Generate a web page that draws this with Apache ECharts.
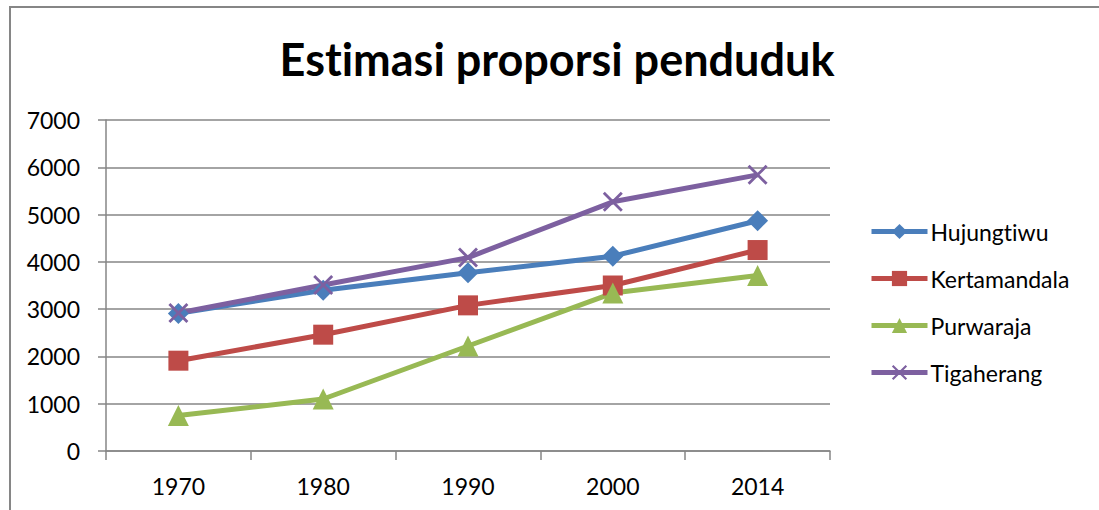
<!DOCTYPE html>
<html>
<head>
<meta charset="utf-8">
<script src="https://cdn.jsdelivr.net/npm/echarts@6/dist/echarts.min.js"></script>
<style>
  html, body { margin: 0; padding: 0; background: #fff; }
  #chart {
    position: absolute; left: 0; top: 0; width: 1099px; height: 510px;
    font-variant-ligatures: none;
  }
  #chart text { font-variant-ligatures: none; }
  #frame {
    position: absolute; left: 9px; top: 6px; right: -4px; bottom: -4px;
    border-left: 2px solid #868686; border-top: 2px solid #868686;
    pointer-events: none;
  }
</style>
</head>
<body>
<div id="chart"></div>
<div id="frame"></div>
<script>
const years = ['1970', '1980', '1990', '2000', '2014']
const hujungtiwu = [2910, 3400, 3770, 4120, 4870]
const kertamandala = [1910, 2460, 3080, 3500, 4250]
const purwaraja = [750, 1100, 2220, 3340, 3710]
const tigaherang = [2920, 3510, 4090, 5270, 5840]

const axisGray = '#868686'
const font = 'Lato, "Open Sans", sans-serif'
const crossPath = 'path://M0,1L1,0L5,4L9,0L10,1L6,5L10,9L9,10L5,6L1,10L0,9L4,5Z'

const chart = echarts.init(document.getElementById('chart'), null, { renderer: 'svg' })

function lineSeries(name, data, color, symbol, size) {
  return {
    name: name,
    type: 'line',
    data: data,
    symbol: symbol,
    symbolSize: size,
    lineStyle: { width: 5, color: color },
    itemStyle: { color: color },
    emphasis: { disabled: true },
  }
}

chart.setOption({
  animation: false,
  backgroundColor: '#fff',
  textStyle: { fontFamily: font },
  title: {
    text: 'Estimasi proporsi penduduk',
    left: 552,
    textAlign: 'center',
    top: 31,
    textStyle: { fontFamily: font, fontWeight: 'bold', fontSize: 45, color: '#000' },
  },
  legend: {
    orient: 'vertical',
    left: 869,
    top: 220,
    padding: 0,
    itemWidth: 56,
    itemHeight: 19,
    itemGap: 24,
    lineStyle: { width: 5 },
    textStyle: { fontFamily: font, fontSize: 23, color: '#000', padding: [0, 0, 0, -2] },
    data: ['Hujungtiwu', 'Kertamandala', 'Purwaraja', 'Tigaherang'],
  },
  grid: { left: 106, right: 269, top: 120, bottom: 59 },
  xAxis: {
    type: 'category',
    data: years,
    boundaryGap: true,
    axisLine: { lineStyle: { color: axisGray, width: 1.5 } },
    axisTick: { show: true, interval: 0, length: 9, lineStyle: { color: axisGray, width: 1.5 } },
    axisLabel: { margin: 23, fontSize: 23, color: '#000', fontFamily: font },
  },
  yAxis: {
    type: 'value',
    min: 0,
    max: 7000,
    interval: 1000,
    axisLine: { show: true, lineStyle: { color: axisGray, width: 1.5 } },
    axisTick: { show: true, length: 8, lineStyle: { color: axisGray, width: 1.5 } },
    axisLabel: { margin: 26, fontSize: 23, color: '#000', fontFamily: font, formatter: (v) => String(v) },
    splitLine: { lineStyle: { color: axisGray, width: 1.5 } },
  },
  series: [
    lineSeries('Hujungtiwu', hujungtiwu, '#4A7EBB', 'diamond', 21),
    lineSeries('Kertamandala', kertamandala, '#BE4B48', 'rect', 20),
    lineSeries('Purwaraja', purwaraja, '#98B954', 'triangle', 21),
    lineSeries('Tigaherang', tigaherang, '#7D60A0', crossPath, 20),
  ],
})
</script>
</body>
</html>
